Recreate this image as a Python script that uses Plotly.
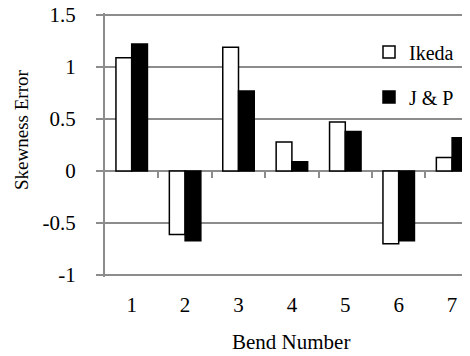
import plotly.graph_objects as go

bends = [1, 2, 3, 4, 5, 6, 7]
tick_labels = ["1", "2", "3", "4", "5", "6", "7"]
ikeda = [1.09, -0.61, 1.19, 0.28, 0.47, -0.70, 0.13]
jp = [1.22, -0.67, 0.77, 0.09, 0.38, -0.67, 0.32]
y_ticks = [-1, -0.5, 0, 0.5, 1, 1.5]
y_tick_text = ["-1", "-0.5", "0", "0.5", "1", "1.5"]
boundaries = [1.5, 2.5, 3.5, 4.5, 5.5, 6.5, 7.5]

FONT = "Liberation Serif"
GRAY = "#8c8c8c"
OFF = 8  # page body margin
PXU = 104.0  # pixels per y unit
PADPX = 2
W, H = 470 - OFF, 356 - OFF
L, R, T, B = 97, 0, 7 - PADPX, 81 - PADPX
pw, ph = W - L - R, H - T - B
pad = PADPX / PXU

def px_x(p):
    return (p - OFF - L) / pw

def px_y(p):
    return (H - B - (p - OFF)) / ph

fig = go.Figure()
fig.add_trace(go.Bar(x=bends, y=ikeda, name="Ikeda",
                     marker=dict(color="white", line=dict(color="black", width=1.5)),
                     legend="legend"))
fig.add_trace(go.Bar(x=bends, y=jp, name="J & P",
                     marker=dict(color="black", line=dict(color="black", width=1.5)),
                     legend="legend2"))
# invisible trace to carry the tick-mark axis along the zero line
fig.add_trace(go.Scatter(x=[bends[0]], y=[0], xaxis="x2", mode="markers",
                         marker=dict(opacity=0), showlegend=False, hoverinfo="skip"))

yr = [-1 - pad, 1.5 + pad]
zero_pos = (0 - yr[0]) / (yr[1] - yr[0])
xr = [0.5, 0.5 + pw / 53.4]
fig.update_layout(
    width=W, height=H,
    margin=dict(l=L, r=R, t=T, b=B, autoexpand=False),
    paper_bgcolor="white", plot_bgcolor="white",
    font=dict(family=FONT, size=21, color="black"),
    barmode="group", bargap=0.41, bargroupgap=0,
    xaxis=dict(range=xr, tickvals=bends, ticktext=tick_labels, showgrid=False,
               showline=False, zeroline=False, ticks="", ticklabelstandoff=11 + PADPX,
               tickfont=dict(family=FONT, size=21)),
    xaxis2=dict(overlaying="x", anchor="free", position=zero_pos, range=xr,
                tickvals=boundaries, ticks="outside", ticklen=6, tickwidth=2,
                tickcolor=GRAY, showticklabels=False, showgrid=False,
                showline=False, zeroline=False),
    yaxis=dict(range=yr, tickvals=y_ticks, ticktext=y_tick_text,
               showgrid=True, gridcolor=GRAY, gridwidth=1.5,
               showline=True, linecolor=GRAY, linewidth=2,
               zeroline=True, zerolinecolor=GRAY, zerolinewidth=2,
               ticks="outside", ticklen=7, tickwidth=1.5, tickcolor=GRAY,
               ticklabelstandoff=16, ticklabeloverflow="allow",
               tickfont=dict(family=FONT, size=21)),
    legend=dict(x=px_x(369), y=px_y(52), xanchor="left", yanchor="middle",
                bgcolor="rgba(0,0,0,0)", font=dict(family=FONT, size=20)),
    legend2=dict(x=px_x(369), y=px_y(97), xanchor="left", yanchor="middle",
                 bgcolor="rgba(0,0,0,0)", font=dict(family=FONT, size=20)),
    annotations=[
        dict(text="Skewness Error", xref="paper", yref="paper",
             x=px_x(21), y=px_y(130), textangle=-90, showarrow=False,
             xanchor="center", yanchor="middle", font=dict(family=FONT, size=19)),
        dict(text="Bend Number", xref="paper", yref="paper",
             x=px_x(291), y=px_y(342), showarrow=False,
             xanchor="center", yanchor="middle", font=dict(family=FONT, size=21)),
    ],
    showlegend=True,
)

fig.write_html("out.html")
